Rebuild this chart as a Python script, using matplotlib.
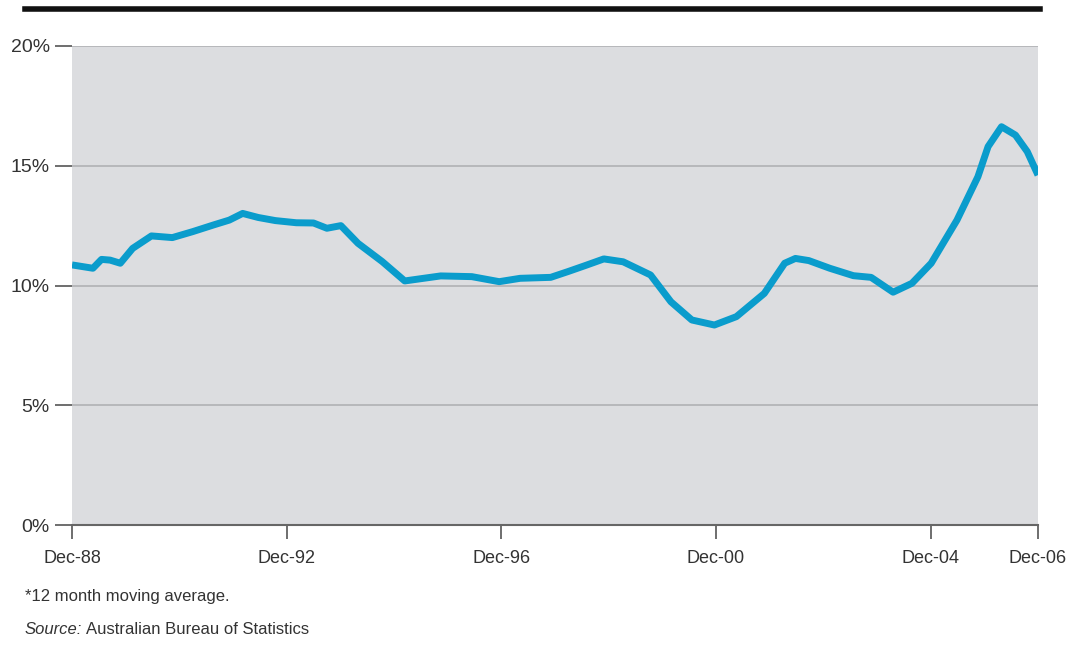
import matplotlib.pyplot as plt
from matplotlib.lines import Line2D

plt.rcParams['font.family'] = ['Liberation Sans Narrow', 'Liberation Sans', 'DejaVu Sans']

# years since Dec-88 and rate (%), 12 month moving average
years = [0.00, 0.39, 0.55, 0.71, 0.90, 1.13, 1.48, 1.87, 2.25, 2.64, 2.93, 3.18,
         3.47, 3.79, 4.18, 4.50, 4.75, 5.01, 5.33, 5.78, 6.20, 6.55, 6.87, 7.45,
         7.96, 8.35, 8.92, 9.24, 9.56, 9.91, 10.27, 10.78, 11.16, 11.55, 11.97,
         12.38, 12.90, 13.28, 13.48, 13.73, 14.12, 14.56, 14.89, 15.30, 15.65,
         16.01, 16.49, 16.88, 17.07, 17.32, 17.58, 17.80, 18.00]
rate = [10.86, 10.72, 11.09, 11.06, 10.93, 11.55, 12.07, 12.00, 12.25, 12.53, 12.73, 13.01,
        12.84, 12.71, 12.62, 12.61, 12.39, 12.50, 11.76, 11.00, 10.19, 10.30, 10.40, 10.37,
        10.16, 10.30, 10.34, 10.58, 10.83, 11.11, 10.99, 10.44, 9.32, 8.56, 8.35,
        8.70, 9.67, 10.93, 11.13, 11.04, 10.72, 10.41, 10.34, 9.72, 10.09,
        10.93, 12.73, 14.54, 15.80, 16.63, 16.28, 15.59, 14.61]

tick_pos = [0, 4, 8, 12, 16, 18]
tick_labels = ['Dec-88', 'Dec-92', 'Dec-96', 'Dec-00', 'Dec-04', 'Dec-06']
y_ticks = [0, 5, 10, 15, 20]
y_labels = ['0%', '5%', '10%', '15%', '20%']

text_col = '#333333'

fig = plt.figure(figsize=(10.68, 6.46), dpi=100)
ax = fig.add_axes([72 / 1068, 121 / 646, 966 / 1068, 479 / 646])
ax.set_facecolor('#dcdde0')

ax.plot(years, rate, color='#0a9ccc', linewidth=5, solid_capstyle='butt', zorder=3)

ax.set_xlim(0, 18)
ax.set_ylim(0, 20)
ax.set_yticks(y_ticks)
ax.set_yticklabels(y_labels)
ax.set_xticks(tick_pos)
ax.set_xticklabels(tick_labels)

for v in y_ticks[1:]:
    ax.axhline(v, color='#b0b1b4', linewidth=1.2, zorder=1)

for s in ['top', 'right', 'left']:
    ax.spines[s].set_visible(False)
ax.spines['bottom'].set_color('#666666')
ax.spines['bottom'].set_linewidth(1.5)

ax.tick_params(axis='y', length=12, width=1.2, color='#555555', labelsize=14,
               labelcolor=text_col, pad=4)
ax.tick_params(axis='x', length=10, width=1.2, color='#555555', labelsize=13,
               labelcolor=text_col, pad=8)

# thick black rule at the top
fig.add_artist(Line2D([25 / 1068, 1040 / 1068], [1 - 9 / 646, 1 - 9 / 646],
                      color='#111111', linewidth=4, transform=fig.transFigure))

fig.text(25 / 1068, 1 - 596 / 646, '*12 month moving average.', fontsize=12,
         color=text_col, va='center')
fig.text(25 / 1068, 1 - 629 / 646, 'Source:', fontsize=12, style='italic',
         color=text_col, va='center')
fig.text(86 / 1068, 1 - 629 / 646, 'Australian Bureau of Statistics', fontsize=12,
         color=text_col, va='center')

fig.savefig('out.png', dpi=100)
